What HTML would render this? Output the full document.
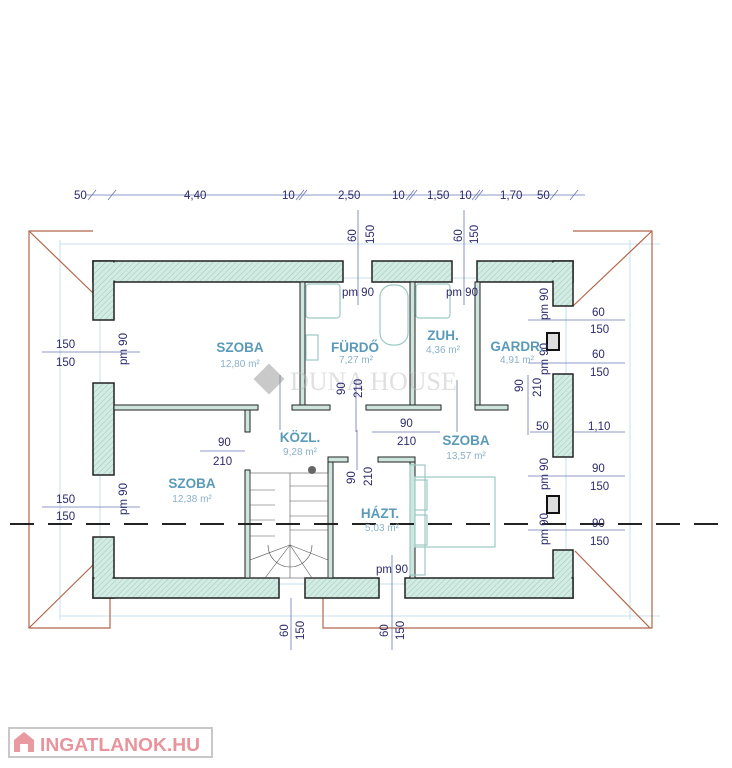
<!DOCTYPE html>
<html><head><meta charset="utf-8"><style>
html,body{margin:0;padding:0;background:#fff;}
svg{display:block;font-family:"Liberation Sans",sans-serif;}
.d{fill:#2a2a6a;font-size:11.5px;}
.r{fill:#5a9ab8;font-size:13.5px;font-weight:bold;text-anchor:middle;}
.a{fill:#8ab0c8;font-size:10px;text-anchor:middle;}
.w{fill:url(#h);stroke:#222;stroke-width:1.5;}
.iw{fill:#cfe6de;stroke:#222;stroke-width:1;}
.dl{stroke:#6a78b0;stroke-width:0.8;fill:none;}
.ll{stroke:#b8d8e6;stroke-width:0.8;fill:none;}
.rf{stroke:#b0664a;stroke-width:1.2;fill:none;}
.fx{stroke:#9cc9c4;stroke-width:1.2;fill:#fff;}
</style></head><body>
<svg width="732" height="768" viewBox="0 0 732 768" xmlns="http://www.w3.org/2000/svg">
<defs>
<pattern id="h" width="4" height="4" patternUnits="userSpaceOnUse" patternTransform="rotate(45)">
<rect width="4" height="4" fill="#d2ebe3"/><line x1="0" y1="0" x2="0" y2="4" stroke="#9fc9bd" stroke-width="1"/>
</pattern>
</defs>

<g class="ll">
<line x1="60" y1="244" x2="660" y2="244"/><line x1="60" y1="616" x2="660" y2="616"/>
<line x1="60" y1="240" x2="60" y2="620"/><line x1="630" y1="240" x2="630" y2="620"/>
<line x1="100" y1="278" x2="566" y2="278"/><line x1="100" y1="584" x2="566" y2="584"/>
<line x1="100" y1="275" x2="100" y2="590"/><line x1="566" y1="275" x2="566" y2="590"/>
</g>

<g class="rf">
<polyline points="93,231 29,231 29,628 110,628 110,598"/>
<line x1="29" y1="231" x2="93" y2="293"/>
<line x1="93" y1="565" x2="29" y2="628"/>
<polyline points="573,231 652,231 652,628 323,628 323,598"/>
<line x1="652" y1="231" x2="573" y2="306"/>
<line x1="575" y1="551" x2="650" y2="628"/>
</g>

<g class="dl">
<line x1="86" y1="195" x2="585" y2="195"/>
<line x1="88" y1="200" x2="96" y2="190"/><line x1="108" y1="200" x2="116" y2="190"/>
<line x1="296" y1="200" x2="304" y2="190"/><line x1="299" y1="200" x2="307" y2="190"/>
<line x1="406" y1="200" x2="414" y2="190"/><line x1="409" y1="200" x2="417" y2="190"/>
<line x1="472" y1="200" x2="480" y2="190"/><line x1="475" y1="200" x2="483" y2="190"/>
<line x1="550" y1="200" x2="558" y2="190"/><line x1="570" y1="200" x2="578" y2="190"/>
<line x1="358" y1="210" x2="358" y2="305"/><line x1="464" y1="210" x2="464" y2="305"/>
<line x1="42" y1="352" x2="140" y2="352"/><line x1="42" y1="507" x2="140" y2="507"/>
<line x1="528" y1="320" x2="625" y2="320"/><line x1="528" y1="363" x2="625" y2="363"/>
<line x1="528" y1="476" x2="625" y2="476"/><line x1="528" y1="530" x2="625" y2="530"/>
<line x1="530" y1="432" x2="625" y2="432"/>
<line x1="528" y1="375" x2="528" y2="435"/>
<line x1="200" y1="451" x2="245" y2="451"/><line x1="372" y1="432" x2="440" y2="432"/>
<line x1="280" y1="375" x2="280" y2="430"/><line x1="356" y1="380" x2="356" y2="432"/>
<line x1="457" y1="380" x2="457" y2="432"/><line x1="357" y1="430" x2="357" y2="470"/>
<line x1="291" y1="598" x2="291" y2="650"/><line x1="392" y1="555" x2="392" y2="650"/>
</g>

<g>
<rect class="w" x="93" y="261" width="250" height="21"/>
<rect class="w" x="372" y="261" width="80" height="21"/>
<rect class="w" x="477" y="261" width="96" height="21"/>
<rect class="w" x="93" y="261" width="21" height="59"/>
<rect class="w" x="93" y="383" width="21" height="92"/>
<rect class="w" x="93" y="537" width="21" height="61"/>
<rect class="w" x="553" y="261" width="20" height="45"/>
<rect class="w" x="553" y="374" width="20" height="83"/>
<rect class="w" x="553" y="550" width="20" height="48"/>
<rect class="w" x="93" y="578" width="186" height="20"/>
<rect class="w" x="305" y="578" width="74" height="20"/>
<rect class="w" x="405" y="578" width="168" height="20"/>
<rect x="94.5" y="262.5" width="247" height="18" fill="url(#h)"/>
<rect x="94.5" y="262.5" width="18" height="56" fill="url(#h)"/>
<rect x="478.5" y="262.5" width="93" height="18" fill="url(#h)"/>
<rect x="554.5" y="262.5" width="17" height="42" fill="url(#h)"/>
<rect x="94.5" y="579.5" width="183" height="17" fill="url(#h)"/>
<rect x="94.5" y="538.5" width="18" height="58" fill="url(#h)"/>
<rect x="406.5" y="579.5" width="165" height="17" fill="url(#h)"/>
<rect x="554.5" y="551.5" width="17" height="45" fill="url(#h)"/>
<rect x="547" y="333" width="12" height="17" fill="#ddd" stroke="#111" stroke-width="2"/>
<rect x="547" y="496" width="12" height="17" fill="#ddd" stroke="#111" stroke-width="2"/>
<rect class="iw" x="300" y="282" width="5" height="125"/>
<rect class="iw" x="410" y="282" width="5" height="125"/>
<rect class="iw" x="475" y="282" width="5" height="125"/>
<rect class="iw" x="114" y="405" width="144" height="5"/>
<rect class="iw" x="292" y="405" width="38" height="5"/>
<rect class="iw" x="366" y="405" width="75" height="5"/>
<rect class="iw" x="475" y="405" width="33" height="5"/>
<rect class="iw" x="245" y="410" width="5" height="22"/>
<rect class="iw" x="245" y="470" width="5" height="108"/>
<rect class="iw" x="328" y="457" width="5" height="121"/>
<rect class="iw" x="410" y="457" width="5" height="121"/>
<rect class="iw" x="328" y="457" width="20" height="5"/>
<rect class="iw" x="378" y="457" width="37" height="5"/>
</g>

<g class="fx">
<rect x="306" y="284" width="34" height="34" rx="3"/>
<rect x="416" y="284" width="34" height="34" rx="3"/>
<rect x="380" y="285" width="28" height="60" rx="12"/>
<rect x="306" y="335" width="12" height="25"/>
<rect x="415" y="477" width="80" height="70"/>
<rect x="415" y="480" width="12" height="30"/><rect x="415" y="515" width="12" height="30"/>
<rect x="410" y="465" width="15" height="110" fill="none"/>
</g>
<g stroke="#555" stroke-width="0.6" fill="none">
<rect x="250" y="473" width="78" height="105"/>
<line x1="290" y1="473" x2="290" y2="545"/>
<line x1="290" y1="486" x2="328" y2="486"/><line x1="290" y1="501" x2="328" y2="501"/>
<line x1="290" y1="516" x2="328" y2="516"/><line x1="290" y1="530" x2="328" y2="530"/>
<line x1="250" y1="490" x2="275" y2="490"/><line x1="250" y1="505" x2="275" y2="505"/>
<line x1="250" y1="520" x2="275" y2="520"/><line x1="250" y1="536" x2="275" y2="536"/>
<path d="M268 545 A22 22 0 0 0 312 545"/>
<line x1="290" y1="545" x2="250" y2="560"/><line x1="290" y1="545" x2="265" y2="578"/>
<line x1="290" y1="545" x2="290" y2="578"/><line x1="290" y1="545" x2="312" y2="578"/>
<line x1="290" y1="545" x2="328" y2="560"/>
</g>
<circle cx="312" cy="470" r="4" fill="#666"/>

<line x1="10" y1="524" x2="732" y2="524" stroke="#222" stroke-width="2" stroke-dasharray="24,14"/>

<g opacity="0.45"><rect x="258" y="368" width="22" height="22" fill="#888" transform="rotate(45 269 379)"/>
<text x="290" y="390" font-family="Liberation Serif,serif" font-size="26" fill="#bbb">DUNA HOUSE</text></g>

<g class="d">
<text x="74" y="199">50</text><text x="184" y="199">4,40</text><text x="282" y="199">10</text>
<text x="338" y="199">2,50</text><text x="392" y="199">10</text><text x="427" y="199">1,50</text>
<text x="459" y="199">10</text><text x="500" y="199">1,70</text><text x="537" y="199">50</text>
<text x="56" y="348">150</text><text x="56" y="366">150</text>
<text x="56" y="503">150</text><text x="56" y="520">150</text>
<text x="592" y="316">60</text><text x="590" y="333">150</text>
<text x="592" y="358">60</text><text x="590" y="376">150</text>
<text x="536" y="430">50</text><text x="588" y="430">1,10</text>
<text x="592" y="472">90</text><text x="590" y="490">150</text>
<text x="592" y="527">90</text><text x="590" y="545">150</text>
<text x="218" y="446">90</text><text x="213" y="465">210</text>
<text x="400" y="427">90</text><text x="397" y="445">210</text>
<text x="342" y="296">pm 90</text><text x="446" y="296">pm 90</text><text x="376" y="573">pm 90</text>
<text transform="translate(356,242) rotate(-90)">60</text><text transform="translate(374,244) rotate(-90)">150</text>
<text transform="translate(462,242) rotate(-90)">60</text><text transform="translate(478,244) rotate(-90)">150</text>
<text transform="translate(127,365) rotate(-90)">pm 90</text><text transform="translate(127,515) rotate(-90)">pm 90</text>
<text transform="translate(548,320) rotate(-90)">pm 90</text><text transform="translate(548,375) rotate(-90)">pm 90</text>
<text transform="translate(548,490) rotate(-90)">pm 90</text><text transform="translate(548,545) rotate(-90)">pm 90</text>
<text transform="translate(523,392) rotate(-90)">90</text><text transform="translate(541,397) rotate(-90)">210</text>
<text transform="translate(345,395) rotate(-90)">90</text><text transform="translate(362,398) rotate(-90)">210</text>
<text transform="translate(355,484) rotate(-90)">90</text><text transform="translate(372,486) rotate(-90)">210</text>
<text transform="translate(288,637) rotate(-90)">60</text><text transform="translate(304,640) rotate(-90)">150</text>
<text transform="translate(388,637) rotate(-90)">60</text><text transform="translate(404,640) rotate(-90)">150</text>
</g>

<text class="r" x="240" y="352">SZOBA</text><text class="a" x="240" y="367">12,80 m²</text>
<text class="r" x="355" y="352">FÜRDŐ</text><text class="a" x="356" y="363">7,27 m²</text>
<text class="r" x="443" y="340">ZUH.</text><text class="a" x="443" y="353">4,36 m²</text>
<text class="r" x="517" y="351">GARDR.</text><text class="a" x="517" y="363">4,91 m²</text>
<text class="r" x="300" y="442">KÖZL.</text><text class="a" x="300" y="455">9,28 m²</text>
<text class="r" x="466" y="445">SZOBA</text><text class="a" x="466" y="459">13,57 m²</text>
<text class="r" x="192" y="488">SZOBA</text><text class="a" x="192" y="502">12,38 m²</text>
<text class="r" x="380" y="518">HÁZT.</text><text class="a" x="382" y="531">5,03 m²</text>

<rect x="9" y="728" width="203" height="29" fill="#fff" stroke="#c8c8c8" stroke-width="2"/>
<path d="M14 752 V740 L24 732 L34 740 V752 H28 V744 H20 V752 Z" fill="#e89aa0"/>
<text x="40" y="751" font-size="18" font-weight="bold" fill="#e8949c" textLength="160" lengthAdjust="spacingAndGlyphs">INGATLANOK.HU</text>
</svg>
</body></html>
